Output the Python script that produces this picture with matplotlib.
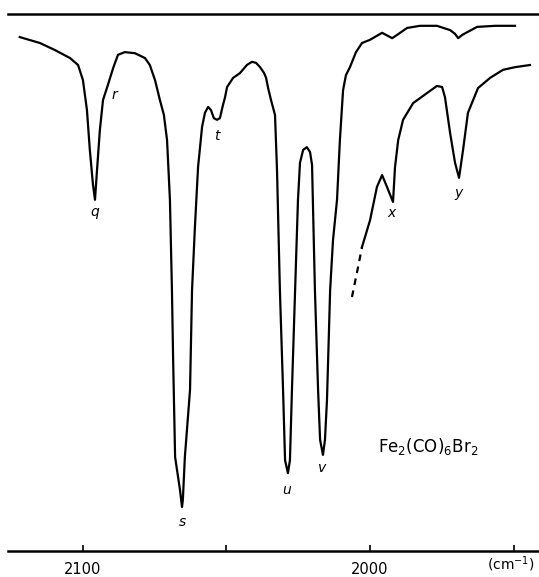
import matplotlib
matplotlib.use("Agg")
import matplotlib.pyplot as plt

# Main spectrum: wavenumber (cm-1) and transmittance (% of chart height)
main_wn = [2122.0, 2115.0, 2109.8, 2104.5, 2101.7, 2100.0, 2098.6, 2097.6, 2096.5, 2095.8,
           2095.1, 2094.1, 2093.0, 2091.3, 2089.5, 2087.8, 2085.4, 2081.9, 2078.4, 2076.7,
           2074.9, 2073.2, 2071.8, 2070.7, 2069.7, 2069.0, 2068.6, 2067.9, 2066.2, 2065.5,
           2065.2, 2064.5, 2062.7, 2062.0, 2061.0, 2059.9, 2058.5, 2057.5, 2056.4, 2055.4,
           2054.4, 2053.3, 2052.3, 2051.2, 2050.5, 2049.8, 2047.7, 2045.3, 2042.9, 2041.1,
           2039.7, 2038.3, 2036.9, 2036.2, 2035.5, 2034.5, 2033.1, 2032.4, 2031.4, 2030.3,
           2029.6, 2028.6, 2027.9, 2027.2, 2026.1, 2025.1, 2024.4, 2023.3, 2022.0, 2020.9,
           2020.2, 2019.2, 2018.1, 2017.4, 2016.4, 2015.7, 2015.0, 2013.9, 2012.9, 2011.5,
           2010.5, 2009.4, 2008.4, 2007.0, 2004.9, 2002.8, 2000.0, 1995.8, 1993.7, 1992.3,
           1990.6, 1987.1, 1982.6, 1976.7, 1972.1, 1970.4, 1969.3, 1967.9, 1966.2, 1962.7,
           1956.4, 1949.5]
main_t = [95.7, 94.6, 93.3, 91.8, 90.5, 87.7, 82.1, 74.7, 68.2, 65.4,
          70.9, 78.4, 84.0, 86.8, 89.9, 92.4, 92.9, 92.7, 91.8, 90.5,
          87.7, 84.0, 81.2, 76.5, 65.4, 48.6, 36.1, 17.5, 11.4, 8.2,
          9.5, 17.5, 30.0, 48.6, 60.3, 71.5, 79.0, 81.6, 82.7, 82.1,
          80.6, 80.3, 80.6, 83.1, 84.5, 86.4, 88.1, 89.0, 90.5, 91.1,
          90.9, 90.1, 89.0, 88.1, 86.2, 84.0, 81.2, 70.9, 48.6, 30.0,
          16.9, 14.5, 16.9, 30.0, 48.6, 65.4, 72.3, 74.7, 75.2, 74.3,
          71.9, 48.6, 30.0, 20.7, 17.9, 20.7, 28.1, 48.6, 57.9, 65.4,
          76.5, 85.8, 88.6, 90.1, 92.9, 94.6, 95.2, 96.5, 95.9, 95.5,
          96.1, 97.4, 97.8, 97.8, 97.0, 96.3, 95.5, 96.1, 96.6, 97.6,
          97.8, 97.8]

# Expanded trace (dashed start, then solid)
exp_dash_wn = [2006.3, 2004.5, 2002.8]
exp_dash_t = [47.3, 52.0, 56.6]
exp_wn = [2002.8, 2000.0, 1997.6, 1995.8, 1994.1, 1992.0, 1991.3, 1990.2, 1988.5, 1985.0,
          1980.1, 1976.7, 1974.9, 1973.9, 1972.1, 1970.4, 1969.0, 1967.6, 1965.9, 1962.4,
          1958.2, 1953.7, 1949.5, 1944.3]
exp_t = [56.6, 61.6, 67.8, 70.0, 67.8, 65.0, 71.5, 76.5, 80.3, 83.4,
         85.3, 86.6, 86.4, 84.5, 77.8, 72.3, 69.5, 74.7, 81.6, 86.2,
         88.1, 89.6, 90.1, 90.5]

peak_labels = ["q", "r", "s", "t", "u", "v", "x", "y"]
peak_wn = [2095.8, 2089.2, 2065.5, 2053.3, 2028.9, 2016.7, 1992.7, 1969.3]
peak_t = [63.1, 84.9, 5.4, 77.3, 11.4, 15.5, 62.9, 66.7]

tick_pos = [2100, 2050, 2000, 1950]
tick_labels = ["2100", "", "2000", ""]
unit_label = "(cm$^{-1}$)"

fig = plt.figure(figsize=(5.39, 5.77), dpi=100)
ax = fig.add_axes([8/539, (577-551)/577, 530/539, (551-14)/577])
ax.set_xlim(2126.1, 1941.5)
ax.set_ylim(0, 100)

ax.plot(main_wn, main_t, color="black", lw=1.6, solid_joinstyle="round")
ax.plot(exp_wn, exp_t, color="black", lw=1.6, solid_joinstyle="round")
ax.plot(exp_dash_wn, exp_dash_t, color="black", lw=1.6, ls=(0, (3, 2.5)))

for lab, w, t in zip(peak_labels, peak_wn, peak_t):
    ax.text(w, t, lab, ha="center", va="center", fontsize=10, style="italic",
            color="black")

ax.text(1979.8, 19.4, "Fe$_2$(CO)$_6$Br$_2$", ha="center", va="center",
        fontsize=12, color="black")

for s in ["left", "right"]:
    ax.spines[s].set_visible(False)
ax.spines["top"].set_linewidth(1.8)
ax.spines["bottom"].set_linewidth(1.8)
ax.set_yticks([])
ax.set_xticks(tick_pos)
ax.set_xticklabels(tick_labels, fontsize=10.5)
ax.tick_params(axis="x", direction="in", length=4, width=1.2, pad=8)

# unit label under the 1950 tick, kept inside the figure
ax.annotate(unit_label, xy=(1950, 0), xycoords="data", xytext=(535, 3),
            textcoords="figure pixels", ha="right", va="bottom", fontsize=10)

fig.savefig("out.png", dpi=100)
